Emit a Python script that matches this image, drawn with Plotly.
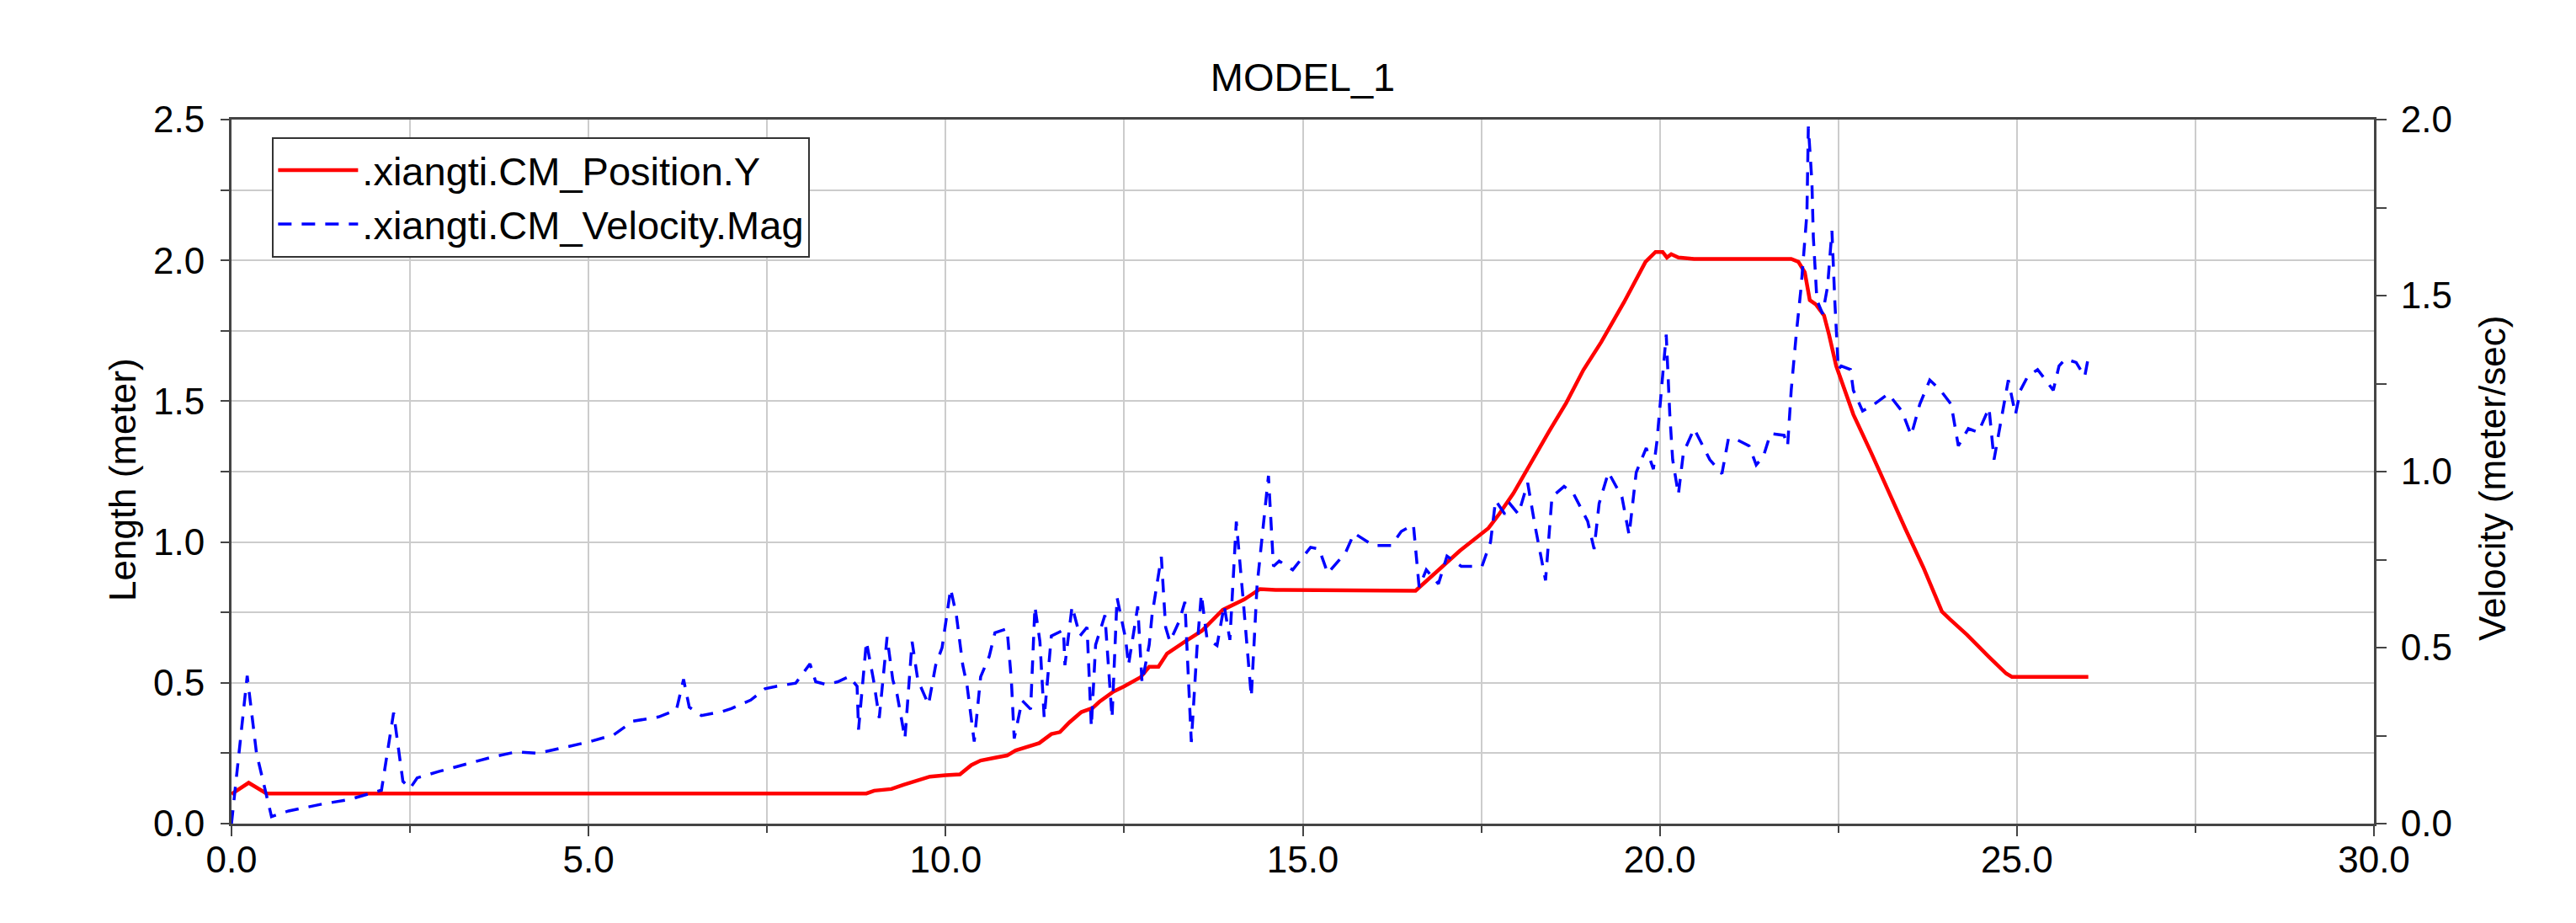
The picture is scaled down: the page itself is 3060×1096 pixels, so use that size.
import plotly.graph_objects as go

# ---- data ----
pos_t = [0, 0.24, 0.49, 8.89, 9.0, 9.24, 9.41, 9.66, 9.78, 10.0, 10.2, 10.36, 10.49, 10.69,
         10.86, 10.98, 11.19, 11.31, 11.48, 11.6, 11.73, 11.9, 12.06, 12.15, 12.35, 12.5,
         12.73, 12.85, 12.98, 13.1, 13.35, 13.59, 13.88, 14.18, 14.4, 14.62, 16.58, 16.97,
         17.2, 17.6, 17.75, 17.95, 18.2, 18.44, 18.69, 18.93, 19.18, 19.5, 19.8, 19.94,
         20.04, 20.1, 20.16, 20.26, 20.48, 21.84, 21.94, 22.03, 22.1, 22.18, 22.3, 22.37,
         22.47, 22.71, 22.96, 23.2, 23.44, 23.69, 23.95, 24.06, 24.3, 24.61, 24.85, 24.93, 26.0]
pos_y = [0.105, 0.145, 0.107, 0.107, 0.117, 0.123, 0.138, 0.158, 0.167, 0.172, 0.175, 0.208,
         0.224, 0.234, 0.242, 0.26, 0.276, 0.286, 0.318, 0.325, 0.359, 0.396, 0.411, 0.432,
         0.469, 0.4875, 0.52, 0.557, 0.557, 0.604, 0.646, 0.685, 0.759, 0.796, 0.833, 0.83,
         0.827, 0.914, 0.969, 1.049, 1.099, 1.173, 1.284, 1.389, 1.494, 1.611, 1.71, 1.852,
         1.995, 2.03, 2.03, 2.01, 2.022, 2.01, 2.005, 2.005, 1.995, 1.958, 1.859, 1.845,
         1.804, 1.736, 1.625, 1.453, 1.317, 1.18, 1.046, 0.91, 0.753, 0.726, 0.671, 0.592,
         0.533, 0.521, 0.521]

vel_t = [0, 0.1, 0.22, 0.35, 0.56, 0.8, 1.28, 1.64, 2.0, 2.1, 2.27, 2.4, 2.5, 2.6, 2.9,
         3.27, 3.63, 3.99, 4.29, 4.65, 5.0, 5.35, 5.62, 5.98, 6.23, 6.33, 6.41, 6.58, 6.88,
         7.0, 7.27, 7.47, 7.63, 7.9, 8.1, 8.18, 8.33, 8.49, 8.65, 8.76, 8.78, 8.89, 8.99,
         9.07, 9.18, 9.26, 9.32, 9.43, 9.53, 9.61, 9.76, 9.86, 9.95, 10.07, 10.15, 10.24,
         10.3, 10.4, 10.49, 10.61, 10.69, 10.86, 10.92, 10.96, 11.07, 11.19, 11.25, 11.32,
         11.38, 11.48, 11.65, 11.67, 11.77, 11.88, 11.98, 12.04, 12.1, 12.23, 12.33, 12.4,
         12.52, 12.56, 12.69, 12.75, 12.85, 12.89, 13.02, 13.08, 13.14, 13.27, 13.35, 13.44,
         13.52, 13.58, 13.66, 13.8, 13.9, 13.98, 14.07, 14.16, 14.28, 14.36, 14.44, 14.52,
         14.59, 14.67, 14.86, 15.11, 15.23, 15.35, 15.6, 15.72, 15.99, 16.24, 16.38, 16.55,
         16.63, 16.73, 16.9, 17.02, 17.22, 17.51, 17.63, 17.7, 17.83, 17.9, 18.02, 18.15,
         18.25, 18.4, 18.49, 18.66, 18.79, 18.89, 18.99, 19.08, 19.15, 19.28, 19.47, 19.57,
         19.67, 19.81, 19.91, 19.96, 20.09, 20.14, 20.18, 20.26, 20.33, 20.48, 20.62, 20.7,
         20.87, 20.96, 21.06, 21.25, 21.35, 21.45, 21.55, 21.74, 21.79, 21.84, 21.91, 21.98,
         22.06, 22.08, 22.13, 22.15, 22.2, 22.28, 22.35, 22.41, 22.45, 22.5, 22.54, 22.67,
         22.71, 22.84, 23.0, 23.2, 23.39, 23.52, 23.64, 23.78, 23.93, 24.08, 24.18, 24.32,
         24.46, 24.61, 24.68, 24.76, 24.88, 24.98, 25.05, 25.15, 25.29, 25.51, 25.59, 25.68,
         25.83, 25.95, 26.0]
vel_y = [0, 0.2, 0.42, 0.2, 0.02, 0.036, 0.056, 0.068, 0.088, 0.095, 0.315, 0.12, 0.1, 0.13,
         0.148, 0.168, 0.188, 0.204, 0.2, 0.216, 0.232, 0.252, 0.291, 0.303, 0.323, 0.41,
         0.331, 0.307, 0.319, 0.327, 0.351, 0.383, 0.39, 0.399, 0.454, 0.403, 0.395, 0.403,
         0.418, 0.39, 0.267, 0.517, 0.408, 0.3, 0.53, 0.408, 0.367, 0.242, 0.517, 0.408,
         0.338, 0.45, 0.5, 0.667, 0.592, 0.45, 0.392, 0.233, 0.417, 0.475, 0.542, 0.554,
         0.408, 0.242, 0.35, 0.325, 0.617, 0.517, 0.3, 0.533, 0.55, 0.45, 0.617, 0.533,
         0.558, 0.275, 0.508, 0.592, 0.3, 0.642, 0.525, 0.45, 0.617, 0.4, 0.508, 0.592,
         0.758, 0.558, 0.517, 0.575, 0.63, 0.232, 0.5, 0.652, 0.525, 0.506, 0.62, 0.522,
         0.858, 0.65, 0.36, 0.675, 0.83, 0.988, 0.731, 0.746, 0.721, 0.785, 0.78, 0.711,
         0.77, 0.825, 0.79, 0.79, 0.83, 0.849, 0.672, 0.721, 0.681, 0.76, 0.731, 0.731, 0.8,
         0.918, 0.879, 0.909, 0.879, 0.968, 0.849, 0.691, 0.928, 0.958, 0.938, 0.899, 0.859,
         0.78, 0.909, 0.998, 0.928, 0.82, 0.998, 1.067, 1.007, 1.086, 1.389, 1.162, 1.034,
         0.935, 1.053, 1.122, 1.063, 1.034, 0.994, 1.093, 1.093, 1.073, 1.019, 1.043, 1.108,
         1.103, 1.073, 1.231, 1.389, 1.527, 1.734, 1.98, 1.822, 1.665, 1.487, 1.448, 1.527,
         1.684, 1.487, 1.29, 1.3, 1.29, 1.231, 1.172, 1.191, 1.221, 1.172, 1.103, 1.191,
         1.26, 1.231, 1.191, 1.073, 1.122, 1.112, 1.181, 1.034, 1.122, 1.26, 1.162, 1.231,
         1.27, 1.29, 1.231, 1.3, 1.32, 1.31, 1.27, 1.324]

x_ticks = [0, 5, 10, 15, 20, 25, 30]
x_tick_labels = ["0.0", "5.0", "10.0", "15.0", "20.0", "25.0", "30.0"]
y_ticks = [0, 0.5, 1.0, 1.5, 2.0, 2.5]
y_tick_labels = ["0.0", "0.5", "1.0", "1.5", "2.0", "2.5"]
y2_ticks = [0, 0.5, 1.0, 1.5, 2.0]
y2_tick_labels = ["0.0", "0.5", "1.0", "1.5", "2.0"]

FONT = "Liberation Sans, Arial, sans-serif"
AXIS_COLOR = "#444444"
GRID_COLOR = "#cccccc"

fig = go.Figure()
fig.add_trace(go.Scatter(
    x=pos_t, y=pos_y, mode="lines", name=".xiangti.CM_Position.Y",
    line=dict(color="#ff0000", width=4.5), yaxis="y"))
fig.add_trace(go.Scatter(
    x=vel_t, y=vel_y, mode="lines", name=".xiangti.CM_Velocity.Mag",
    line=dict(color="#0000ff", width=3.5, dash="16px,12px"), yaxis="y2"))

fig.update_layout(
    width=3060, height=1096,
    margin=dict(l=267, r=248, t=134, b=126),
    paper_bgcolor="white", plot_bgcolor="white",
    font=dict(family=FONT, size=44, color="black"),
    title=dict(text="MODEL_1", x=0.5, xref="paper", y=1 - 84 / 1096, yref="container",
               xanchor="center", yanchor="middle", font=dict(size=47, color="black")),
    showlegend=True,
    legend=dict(x=0.019, y=0.975, xanchor="left", yanchor="top",
                bgcolor="white", bordercolor="#333333", borderwidth=2,
                font=dict(size=47), itemwidth=95, tracegroupgap=0),
    xaxis=dict(range=[0, 30], tickvals=x_ticks, ticktext=x_tick_labels,
               showgrid=True, gridcolor=GRID_COLOR, gridwidth=2,
               showline=True, linecolor=AXIS_COLOR, linewidth=3, mirror=True,
               ticks="outside", ticklen=12, tickwidth=2, tickcolor=AXIS_COLOR,
               ticklabelstandoff=-10, zeroline=False,
               minor=dict(dtick=2.5, tick0=0, showgrid=True, gridcolor=GRID_COLOR,
                          gridwidth=2, ticks="outside", ticklen=8, tickcolor=AXIS_COLOR)),
    yaxis=dict(range=[0, 2.5], tickvals=y_ticks, ticktext=y_tick_labels,
               showgrid=True, gridcolor=GRID_COLOR, gridwidth=2,
               showline=True, linecolor=AXIS_COLOR, linewidth=3,
               ticks="outside", ticklen=10, tickwidth=2, tickcolor=AXIS_COLOR,
               ticklabelstandoff=10, zeroline=False,
               minor=dict(dtick=0.25, tick0=0, showgrid=True, gridcolor=GRID_COLOR,
                          gridwidth=2, ticks="outside", ticklen=10, tickcolor=AXIS_COLOR)),
    yaxis2=dict(range=[0, 2.0], tickvals=y2_ticks, ticktext=y2_tick_labels,
                overlaying="y", side="right", showgrid=False,
                showline=True, linecolor=AXIS_COLOR, linewidth=3,
                ticks="outside", ticklen=12, tickwidth=2, tickcolor=AXIS_COLOR,
                ticklabelstandoff=8, zeroline=False,
                minor=dict(dtick=0.25, tick0=0, showgrid=False, ticks="outside",
                           ticklen=12, tickcolor=AXIS_COLOR)),
    annotations=[
        dict(text="Length (meter)", xref="paper", yref="paper",
             x=(137 - 267) / 2545, y=(970 - 562) / 836, xanchor="center", yanchor="middle",
             textangle=-90, showarrow=False, font=dict(size=44, color="black")),
        dict(text="Velocity (meter/sec)", xref="paper", yref="paper",
             x=(2952 - 267) / 2545, y=(970 - 560) / 836, xanchor="center", yanchor="middle",
             textangle=-90, showarrow=False, font=dict(size=44, color="black")),
    ],
)

fig.write_html("out.html")
